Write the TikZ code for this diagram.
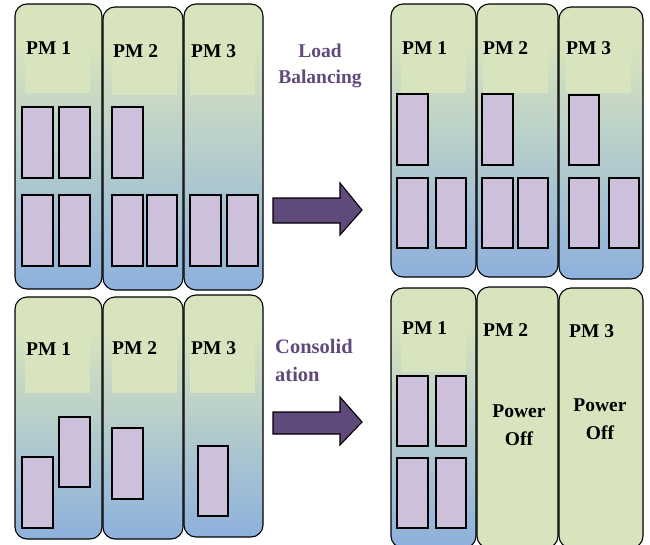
\documentclass[tikz,border=0pt]{standalone}
\usepackage{fontspec}
\setmainfont{Liberation Serif}
\definecolor{pmgreen}{RGB}{215,228,189}
\definecolor{pmblue}{RGB}{143,178,220}
\definecolor{vmfill}{RGB}{204,192,218}
\definecolor{arrowpurple}{RGB}{96,74,123}
\pgfdeclareverticalshading{pmshade}{100bp}{color(0bp)=(pmblue); color(26bp)=(pmblue); color(68bp)=(pmgreen); color(100bp)=(pmgreen)}
\tikzset{
  pmbox/.style={draw=black, line width=1.1pt, rounded corners=12pt, shading=pmshade},
  pmoff/.style={draw=black, line width=1.1pt, rounded corners=12pt, fill=pmgreen},
  hdr/.style={fill=pmgreen, draw=none},
  vm/.style={draw=black, line width=1.4pt, fill=vmfill},
  pmlbl/.style={anchor=base west, inner sep=0pt, font=\bfseries\fontsize{19.5}{20}\selectfont},
  offlbl/.style={anchor=base, inner sep=0pt, font=\bfseries\fontsize{19.5}{20}\selectfont},
  oplbl/.style={inner sep=0pt, text=arrowpurple, font=\bfseries\fontsize{19.5}{20}\selectfont},
  bigarrow/.style={draw=black, line width=1.1pt, fill=arrowpurple, line join=miter},
}
\begin{document}
\begin{tikzpicture}[x=1pt,y=-1pt]
\useasboundingbox (0,0) rectangle (650,544);
\clip (0,0) rectangle (650,544);

% ---------- top-left ----------
\draw[pmbox] (15,4) rectangle (102,289);
\draw[pmbox] (103,7) rectangle (183,290);
\draw[pmbox] (184,4) rectangle (263,290);
\fill[hdr] (25,13) rectangle (90,93);
\fill[hdr] (112,15) rectangle (177,95);
\fill[hdr] (190,15) rectangle (255,95);
\node[pmlbl] (tl1) at (26,54) {PM 1};
\node[pmlbl] (tl2) at (113,57) {PM 2};
\node[pmlbl] (tl3) at (191,57) {PM 3};
\draw[vm] (22,107) rectangle (53,178);
\draw[vm] (59,107) rectangle (90,178);
\draw[vm] (22,195) rectangle (53,266);
\draw[vm] (59,195) rectangle (90,266);
\draw[vm] (112,107) rectangle (143,178);
\draw[vm] (112,195) rectangle (143,266);
\draw[vm] (147,195) rectangle (177,266);
\draw[vm] (190,195) rectangle (221,266);
\draw[vm] (227,195) rectangle (258,266);

% ---------- top-right ----------
\draw[pmbox] (391,4) rectangle (476,277);
\draw[pmbox] (477,4) rectangle (558,277);
\draw[pmbox] (559,7) rectangle (643,279);
\fill[hdr] (401,12) rectangle (466,93);
\fill[hdr] (483,12) rectangle (548,93);
\fill[hdr] (566,12) rectangle (631,93);
\node[pmlbl] (tr1) at (402,54) {PM 1};
\node[pmlbl] (tr2) at (483,54) {PM 2};
\node[pmlbl] (tr3) at (566,54) {PM 3};
\draw[vm] (397,94) rectangle (428,165);
\draw[vm] (397,178) rectangle (428,248);
\draw[vm] (436,178) rectangle (466,248);
\draw[vm] (482,94) rectangle (513,165);
\draw[vm] (482,178) rectangle (513,248);
\draw[vm] (518,178) rectangle (548,248);
\draw[vm] (569,95) rectangle (599,165);
\draw[vm] (569,178) rectangle (599,248);
\draw[vm] (609,178) rectangle (639,248);

% ---------- bottom-left ----------
\draw[pmbox] (15,297) rectangle (102,539);
\draw[pmbox] (103,297) rectangle (183,539);
\draw[pmbox] (184,295) rectangle (263,537);
\fill[hdr] (25,318) rectangle (90,393);
\fill[hdr] (112,318) rectangle (177,393);
\fill[hdr] (190,318) rectangle (255,393);
\node[pmlbl] (bl1) at (26,355) {PM 1};
\node[pmlbl] (bl2) at (112,354) {PM 2};
\node[pmlbl] (bl3) at (191,354) {PM 3};
\draw[vm] (22,457) rectangle (53,528);
\draw[vm] (59,417) rectangle (90,487);
\draw[vm] (112,428) rectangle (143,499);
\draw[vm] (198,446) rectangle (228,516);

% ---------- bottom-right ----------
\draw[pmbox] (391,288) rectangle (476,548);
\draw[pmoff] (477,287) rectangle (558,548);
\draw[pmoff] (559,288) rectangle (643,548);
\fill[hdr] (401,312) rectangle (466,372);
\node[pmlbl] (br1) at (402,334) {PM 1};
\node[pmlbl] (br2) at (483,336) {PM 2};
\node[pmlbl] (br3) at (569,337) {PM 3};
\node[offlbl] (off2a) at (519,417) {Power};
\node[offlbl] (off2b) at (519,445) {Off};
\node[offlbl] (off3a) at (600,411) {Power};
\node[offlbl] (off3b) at (600,439) {Off};
\draw[vm] (397,376) rectangle (428,446);
\draw[vm] (436,376) rectangle (466,446);
\draw[vm] (397,458) rectangle (428,528);
\draw[vm] (436,458) rectangle (466,528);

% ---------- arrows and labels ----------
\node[oplbl, anchor=base] (lb1) at (320,57) {Load};
\node[oplbl, anchor=base] (lb2) at (320,83) {Balancing};
\node[oplbl, anchor=base west, font=\bfseries\fontsize{20.5}{21}\selectfont] (co1) at (275,353) {Consolid};
\node[oplbl, anchor=base west, font=\bfseries\fontsize{20.5}{21}\selectfont] (co2) at (275,381) {ation};
\draw[bigarrow] (273,198) -- (340,198) -- (340,183) -- (362,210) -- (340,235) -- (340,223) -- (273,223) -- cycle;
\draw[bigarrow] (273,412) -- (340,412) -- (340,397) -- (362,422) -- (340,445) -- (340,434) -- (273,434) -- cycle;
\end{tikzpicture}
\end{document}
